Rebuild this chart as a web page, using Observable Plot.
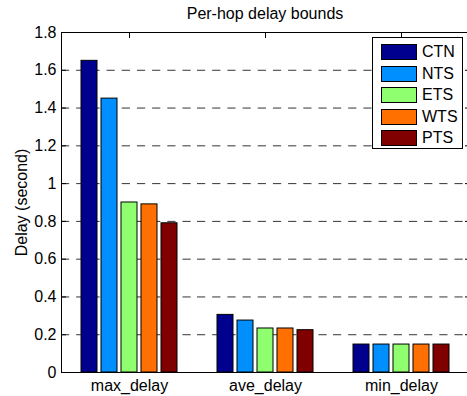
<!DOCTYPE html>
<html><head><meta charset="utf-8">
<script src="https://cdn.jsdelivr.net/npm/d3@7"></script>
<script src="https://cdn.jsdelivr.net/npm/@observablehq/plot@0.6"></script>
<style>
body{margin:0;background:#fff;overflow:hidden;font-family:"Liberation Sans",Arial,sans-serif;}
#chart{position:relative;width:467px;height:396px;overflow:hidden;}
#title{position:absolute;left:60px;width:410px;top:6px;text-align:center;font-size:16px;line-height:16px;color:#000;}
.legend{position:absolute;left:372px;top:37px;width:91px;height:112px;border:1px solid #000;background:#fff;box-sizing:border-box;}
.row{position:absolute;left:8px;height:16px;display:flex;align-items:center;}
.sw{width:36px;height:16px;box-sizing:border-box;border:1px solid #000;margin-right:5px;}
.lab{font-size:16px;line-height:16px;color:#000;}
svg{display:block;}
</style></head><body><div id="chart"><div id="title"></div></div>
<script>
const title = "Per-hop delay bounds";
const yLabel = "Delay (second)";
const groups = ["max_delay", "ave_delay", "min_delay"];
const series = ["CTN", "NTS", "ETS", "WTS", "PTS"];
const colors = ["#00008F", "#008FFF", "#8FFF70", "#FF7000", "#800000"];
const maxDelay = [1.65, 1.45, 0.90, 0.89, 0.79];
const aveDelay = [0.305, 0.275, 0.233, 0.233, 0.224];
const minDelay = [0.148, 0.148, 0.148, 0.148, 0.148];
const yTicks = [0, 0.2, 0.4, 0.6, 0.8, 1, 1.2, 1.4, 1.6, 1.8];
const gridTicks = [0.2, 0.4, 0.6, 0.8, 1, 1.2, 1.4, 1.6];

const valuesByGroup = [maxDelay, aveDelay, minDelay];
const data = [];
groups.forEach((g, gi) => series.forEach((s, si) => data.push({group: g, series: s, value: valuesByGroup[gi][si]})));

const chart = Plot.plot({
  width: 467, height: 396,
  marginLeft: 60, marginRight: -3, marginTop: 32, marginBottom: 24,
  style: {fontFamily: "'Liberation Sans', Arial, sans-serif", fontSize: "16px", background: "white", color: "black", overflow: "visible"},
  fx: {domain: groups, padding: 0, label: null, axis: null},
  x: {domain: series, paddingInner: 0.21, paddingOuter: 0.86, axis: null},
  y: {domain: [0, 1.8], label: null, axis: null},
  color: {domain: series, range: colors},
  marks: [
    Plot.gridY(gridTicks, {stroke: "black", strokeOpacity: 0.8, strokeDasharray: "8.2,6.985"}),
    Plot.barY(data, {fx: "group", x: "series", y: "value", fill: "series", stroke: "black", strokeWidth: 1}),
    Plot.frame({stroke: "black", facet: "super"}),
    Plot.axisY(yTicks, {anchor: "left", tickSize: -5, tickPadding: 10, tickFormat: d => String(d), label: yLabel, labelAnchor: "center", labelArrow: "none", labelOffset: 46}),
    Plot.axisY(yTicks, {anchor: "right", tickSize: -5, tickFormat: () => "", label: null}),
    Plot.axisFx({anchor: "bottom", tickSize: 0, tickPadding: 7, label: null}),
    Plot.axisFx({anchor: "top", tickSize: -5, tickFormat: () => "", label: null})
  ]
});
const root = document.getElementById("chart");
root.appendChild(chart);
document.getElementById("title").textContent = title;

const legend = document.createElement("div");
legend.className = "legend";
series.forEach((s, i) => {
  const row = document.createElement("div");
  row.className = "row";
  row.style.top = (6 + i * 21.5) + "px";
  const sw = document.createElement("div");
  sw.className = "sw";
  sw.style.background = colors[i];
  const lab = document.createElement("span");
  lab.className = "lab";
  lab.textContent = s;
  row.appendChild(sw); row.appendChild(lab);
  legend.appendChild(row);
});
root.appendChild(legend);
</script></body></html>
